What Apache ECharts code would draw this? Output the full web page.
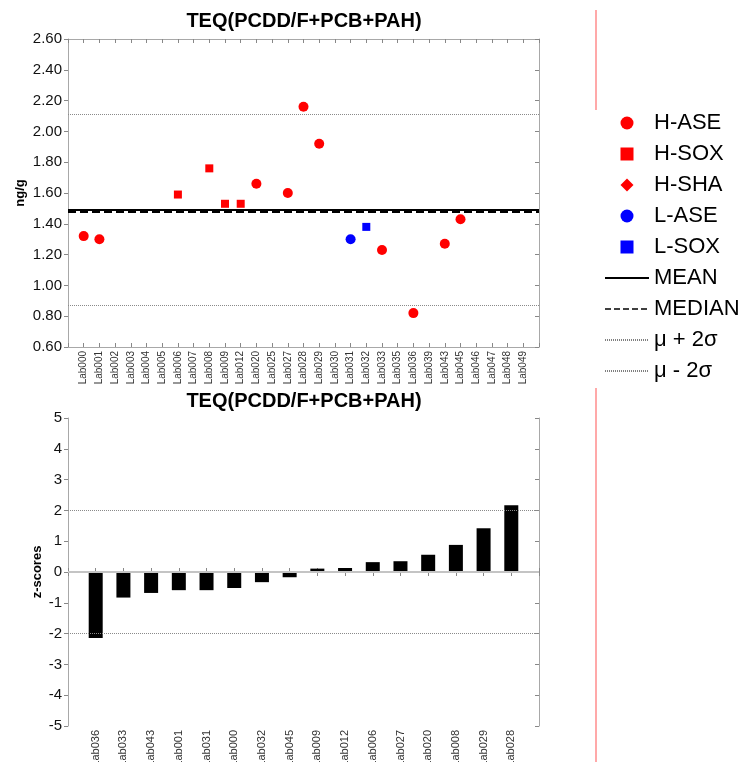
<!DOCTYPE html>
<html>

<head>
    <meta charset="UTF-8" />
    <title>TEQ(PCDD/F+PCB+PAH)</title>
    <script src="https://cdn.jsdelivr.net/npm/echarts@6/dist/echarts.min.js"></script>
    <style>
        html, body { margin: 0; padding: 0; background: #fff; }
        #chart { width: 748px; height: 762px; }
    </style>
</head>

<body>
    <div id="chart"></div>

    <script type="text/javascript">
        // labs on the upper panel
        let labs = ['Lab000', 'Lab001', 'Lab002', 'Lab003', 'Lab004', 'Lab005', 'Lab006', 'Lab007', 'Lab008', 'Lab009',
            'Lab012', 'Lab020', 'Lab025', 'Lab027', 'Lab028', 'Lab029', 'Lab030', 'Lab031', 'Lab032', 'Lab033',
            'Lab035', 'Lab036', 'Lab039', 'Lab043', 'Lab045', 'Lab046', 'Lab047', 'Lab048', 'Lab049'];

        // results per method (ng/g)
        let hAseLabs = ['Lab000', 'Lab001', 'Lab020', 'Lab027', 'Lab028', 'Lab029', 'Lab033', 'Lab036', 'Lab043', 'Lab045'];
        let hAseValues = [1.32, 1.30, 1.66, 1.60, 2.16, 1.92, 1.23, 0.82, 1.27, 1.43];
        let hSoxLabs = ['Lab006', 'Lab008', 'Lab009', 'Lab012'];
        let hSoxValues = [1.59, 1.76, 1.53, 1.53];
        let hShaLabs = [];
        let hShaValues = [];
        let lAseLabs = ['Lab031'];
        let lAseValues = [1.30];
        let lSoxLabs = ['Lab032'];
        let lSoxValues = [1.38];

        // statistics
        let meanValue = 1.49;
        let medianValue = 1.48;
        let upperValue = 2.11;
        let lowerValue = 0.87;

        // z-scores, sorted
        let zLabs = ['Lab036', 'Lab033', 'Lab043', 'Lab001', 'Lab031', 'Lab000', 'Lab032', 'Lab045',
            'Lab009', 'Lab012', 'Lab006', 'Lab027', 'Lab020', 'Lab008', 'Lab029', 'Lab028'];
        let zValues = [-2.14, -0.83, -0.68, -0.59, -0.59, -0.52, -0.33, -0.17,
            0.11, 0.13, 0.32, 0.35, 0.56, 0.88, 1.42, 2.17];
        let zLimits = [-2, 2];

        let FONT = 'Liberation Sans, Arial, sans-serif';
        let BOX = '#a8a8a8';

        // one empty slot on each side, like the original plot
        let pad = list => [''].concat(list, ['']);
        let pairs = (names, values) => names.map((n, i) => [n, values[i]]);

        let xBottom = (grid, data, size) => ({
            type: 'category', gridIndex: grid, data: data, boundaryGap: false, position: 'bottom',
            axisLine: { lineStyle: { color: BOX, width: 1 } },
            axisTick: { inside: true, length: 4, interval: 0, lineStyle: { color: '#888' } },
            axisLabel: { rotate: 90, interval: 0, fontSize: size, fontFamily: FONT, color: '#333', margin: 4 },
            splitLine: { show: false }
        });
        let xTop = (grid, data) => ({
            type: 'category', gridIndex: grid, data: data, boundaryGap: false, position: 'top',
            axisLine: { lineStyle: { color: BOX, width: 1 } },
            axisTick: { inside: true, length: 4, interval: 0, lineStyle: { color: '#888' } },
            axisLabel: { show: false },
            splitLine: { show: false }
        });
        let yLeft = (grid, min, max, step, name, gap, fmt) => ({
            type: 'value', gridIndex: grid, min: min, max: max, interval: step, position: 'left',
            name: name, nameLocation: 'middle', nameGap: gap, nameMoveOverlap: false,
            nameTextStyle: { fontSize: 13, fontWeight: 'bold', fontFamily: FONT, color: '#000' },
            axisLine: { show: true, lineStyle: { color: BOX, width: 1 } },
            axisTick: { show: true, inside: false, length: 4, lineStyle: { color: '#888' } },
            axisLabel: { fontSize: 15, fontFamily: FONT, color: '#111', margin: 6, formatter: fmt },
            splitLine: { show: false }
        });
        let yRight = (grid, min, max, step) => ({
            type: 'value', gridIndex: grid, min: min, max: max, interval: step, position: 'right',
            axisLine: { show: true, lineStyle: { color: BOX, width: 1 } },
            axisTick: { show: true, inside: true, length: 4, lineStyle: { color: '#888' } },
            axisLabel: { show: false },
            splitLine: { show: false }
        });

        let refLine = (name, value, color, type, width) => ({
            name: name, type: 'line', xAxisIndex: 0, yAxisIndex: 0, data: [],
            symbol: 'none', color: color,
            lineStyle: { color: color, type: type, width: width },
            markLine: {
                silent: true, symbol: ['none', 'none'], label: { show: false },
                lineStyle: { color: color, type: type, width: width },
                data: [{ yAxis: value }]
            }
        });
        let dots = (name, names, values, symbol, size, color) => ({
            name: name, type: 'scatter', xAxisIndex: 0, yAxisIndex: 0,
            symbol: symbol, symbolSize: size, itemStyle: { color: color, opacity: 1 },
            data: pairs(names, values)
        });

        let chart = echarts.init(document.getElementById('chart'));
        let option = {
            animation: false,
            backgroundColor: '#fff',
            grid: [
                { left: 68, top: 39, width: 471, height: 308, outerBoundsMode: 'none' },
                { left: 68, top: 418, width: 471, height: 308, outerBoundsMode: 'none' }
            ],
            xAxis: [xBottom(0, pad(labs), 10), xTop(0, pad(labs)), xBottom(1, pad(zLabs), 11), xTop(1, pad(zLabs))],
            yAxis: [
                yLeft(0, 0.6, 2.6, 0.2, 'ng/g', 41, v => v.toFixed(2)),
                yRight(0, 0.6, 2.6, 0.2),
                yLeft(1, -5, 5, 1, 'z-scores', 24, v => String(v)),
                yRight(1, -5, 5, 1)
            ],
            legend: {
                orient: 'vertical', left: 599, top: 107,
                itemWidth: 44, itemHeight: 13, itemGap: 9,
                textStyle: { fontSize: 22, fontFamily: FONT, color: '#000' },
                selectedMode: false,
                data: [
                    { name: 'H-ASE' },
                    { name: 'H-SOX', icon: 'path://M0,0L10,0L10,10L0,10Z' },
                    { name: 'H-SHA', icon: 'path://M5,0L10,5L5,10L0,5Z' },
                    { name: 'L-ASE' },
                    { name: 'L-SOX', icon: 'path://M0,0L10,0L10,10L0,10Z' },
                    { name: 'MEAN', itemStyle: { opacity: 0 }, lineStyle: { width: 2 } },
                    { name: 'MEDIAN', itemStyle: { opacity: 0 }, lineStyle: { width: 1.5 } },
                    { name: 'μ + 2σ', itemStyle: { opacity: 0 }, lineStyle: { color: '#000', width: 1 } },
                    { name: 'μ - 2σ', itemStyle: { opacity: 0 }, lineStyle: { color: '#000', width: 1 } }
                ]
            },
            graphic: [
                {
                    type: 'text', x: 304, y: 21,
                    style: { text: 'TEQ(PCDD/F+PCB+PAH)', fill: '#000', align: 'center', verticalAlign: 'middle', font: 'bold 20px ' + FONT }
                },
                {
                    type: 'text', x: 304, y: 401,
                    style: { text: 'TEQ(PCDD/F+PCB+PAH)', fill: '#000', align: 'center', verticalAlign: 'middle', font: 'bold 20px ' + FONT }
                },
                // thin red separator on the right
                { type: 'line', shape: { x1: 596, y1: 10, x2: 596, y2: 110 }, style: { stroke: '#ff8c8c', lineWidth: 1.5 } },
                { type: 'line', shape: { x1: 596, y1: 388, x2: 596, y2: 762 }, style: { stroke: '#ff8c8c', lineWidth: 1.5 } }
            ],
            series: [
                refLine('μ + 2σ', upperValue, '#8a8a8a', 'dotted', 1),
                refLine('μ - 2σ', lowerValue, '#8a8a8a', 'dotted', 1),
                refLine('MEAN', meanValue, '#000', 'solid', 2),
                refLine('MEDIAN', medianValue, '#000', 'dashed', 2),
                dots('H-ASE', hAseLabs, hAseValues, 'circle', 10, '#ff0000'),
                dots('H-SOX', hSoxLabs, hSoxValues, 'rect', 8, '#ff0000'),
                dots('H-SHA', hShaLabs, hShaValues, 'diamond', 10, '#ff0000'),
                dots('L-ASE', lAseLabs, lAseValues, 'circle', 10, '#0000ff'),
                dots('L-SOX', lSoxLabs, lSoxValues, 'rect', 8, '#0000ff'),
                {
                    name: 'z-scores', type: 'bar', xAxisIndex: 2, yAxisIndex: 2,
                    barWidth: 14, itemStyle: { color: '#000' },
                    data: ['-'].concat(zValues, ['-']),
                    markLine: {
                        silent: true, symbol: ['none', 'none'], label: { show: false },
                        data: [
                            { yAxis: 0, lineStyle: { color: '#c4c4c4', type: 'solid', width: 2 } },
                            { yAxis: zLimits[0], lineStyle: { color: '#8a8a8a', type: 'dotted', width: 1 } },
                            { yAxis: zLimits[1], lineStyle: { color: '#8a8a8a', type: 'dotted', width: 1 } }
                        ]
                    }
                }
            ]
        };
        chart.setOption(option);
    </script>
</body>

</html>
